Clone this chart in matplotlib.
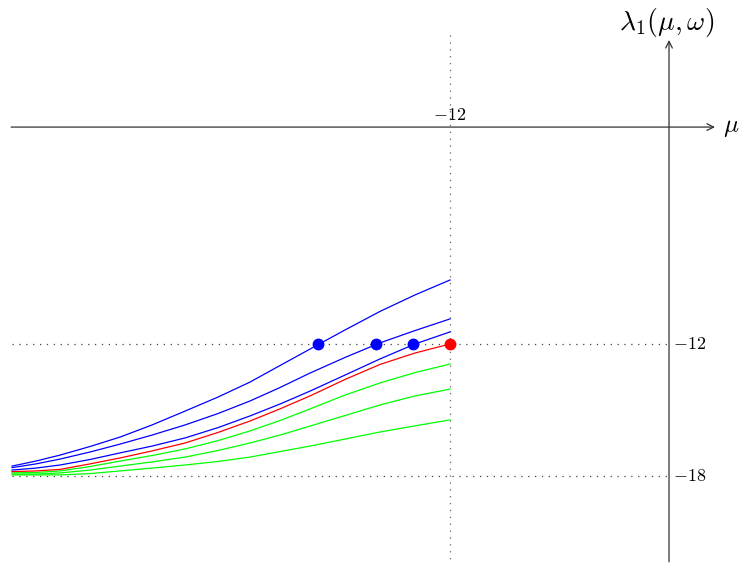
import matplotlib
matplotlib.use("Agg")
import matplotlib.pyplot as plt

plt.rcParams['mathtext.fontset'] = 'cm'

# data
mu = [-36.0, -34.69, -33.37, -31.73, -30.08, -28.33, -26.52, -24.71,
      -22.96, -21.32, -19.67, -17.75, -15.84, -13.92, -12.0]
blue_curves = [
    [-17.55, -17.32, -17.05, -16.66, -16.23, -15.68, -15.05, -14.41,
     -13.73, -12.98, -12.23, -11.36, -10.52, -9.77, -9.09],
    [-17.62, -17.45, -17.23, -16.91, -16.55, -16.14, -15.68, -15.16,
     -14.59, -13.98, -13.32, -12.61, -11.95, -11.39, -10.86],
    [-17.73, -17.64, -17.50, -17.25, -16.95, -16.64, -16.27, -15.80,
     -15.27, -14.73, -14.14, -13.41, -12.68, -12.00, -11.45],
]
red_curve = [-17.80, -17.77, -17.70, -17.45, -17.18, -16.86, -16.50, -16.02,
             -15.50, -14.95, -14.36, -13.61, -12.93, -12.41, -12.00]
green_curves = [
    [-17.86, -17.84, -17.77, -17.57, -17.32, -17.07, -16.77, -16.39,
     -15.95, -15.48, -14.95, -14.32, -13.77, -13.30, -12.91],
    [-17.91, -17.91, -17.86, -17.73, -17.55, -17.36, -17.14, -16.84,
     -16.50, -16.14, -15.73, -15.25, -14.77, -14.36, -14.05],
    [-17.95, -17.95, -17.95, -17.89, -17.77, -17.64, -17.50, -17.34,
     -17.14, -16.89, -16.64, -16.32, -16.00, -15.72, -15.45],
]
blue_dots_mu = [-19.23, -16.05, -14.03]
dot_lambda = -12.0
red_dot_mu = -12.0
ytick_vals = [-12, -18]
ytick_labels = [r'$-12$', r'$-18$']
xtick_val = -12
xtick_label = r'$-12$'

fig = plt.figure(figsize=(7.4, 5.71), dpi=100)
ax = fig.add_axes([0, 0, 1, 1])
ax.set_xlim(-36.66, 3.89)
ax.set_ylim(-22.318, 3.636)
ax.axis('off')

# dotted guide lines
ax.plot([xtick_val, xtick_val], [2.05, -21.9], color='#666666', lw=0.9,
        linestyle=(0, (1, 4.5)))
for v in ytick_vals:
    ax.plot([-36.0, 0], [v, v], color='#444444', lw=0.9, linestyle=(0, (1, 4.5)))

# axes arrows
ax.annotate('', xy=(2.52, -2.14), xytext=(-36.05, -2.14),
            arrowprops=dict(arrowstyle='->', lw=0.9, color='#333333',
                            shrinkA=0, shrinkB=0, mutation_scale=12))
ax.annotate('', xy=(0, 1.82), xytext=(0, -21.9),
            arrowprops=dict(arrowstyle='->', lw=0.9, color='#333333',
                            shrinkA=0, shrinkB=0, mutation_scale=12))

# labels
ax.text(2.95, -2.14, r'$\mu$', fontsize=18, ha='left', va='center')
ax.text(-0.15, 2.6, r'$\lambda_1(\mu,\omega)$', fontsize=20, ha='center', va='center')
ax.text(xtick_val, -1.6, xtick_label, fontsize=13, ha='center', va='center')
for v, lab in zip(ytick_vals, ytick_labels):
    ax.text(0.2, v, lab, fontsize=13, ha='left', va='center')

# curves
for c in green_curves:
    ax.plot(mu, c, color=(0, 1, 0), lw=0.9)
ax.plot(mu, red_curve, color=(1, 0, 0), lw=0.9)
for c in blue_curves:
    ax.plot(mu, c, color=(0, 0, 1), lw=0.9)

# dots
ax.plot(blue_dots_mu, [dot_lambda] * len(blue_dots_mu), 'o', color=(0, 0, 1),
        markersize=7.5, zorder=5)
ax.plot([red_dot_mu], [dot_lambda], 'o', color=(1, 0, 0), markersize=7.5, zorder=5)

fig.savefig('out.png', dpi=100)
